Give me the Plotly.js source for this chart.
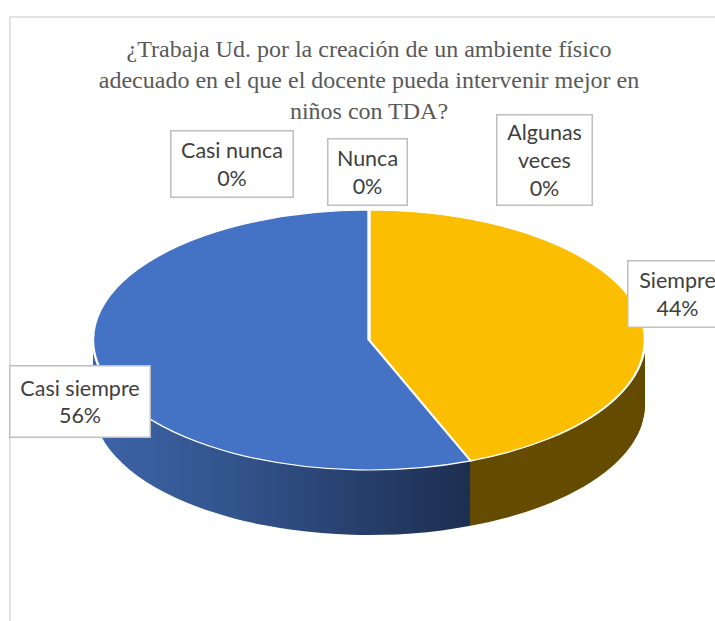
<!DOCTYPE html>
<html>
<head>
<meta charset="utf-8">
<script src="https://cdn.plot.ly/plotly-3.0.1.min.js"></script>
<style>
  html, body { margin: 0; padding: 0; background: #ffffff; }
  #wrap { position: relative; width: 715px; height: 621px; overflow: hidden; background: #ffffff; }
  #pie { position: absolute; left: 93px; top: 210px; width: 552px; height: 690px;
         transform: scaleY(0.471); transform-origin: 0 0; }
  #over { position: absolute; left: 0; top: 0; width: 715px; height: 621px; pointer-events: none; }
</style>
</head>
<body>
<div id="wrap">
  <div id="pie"></div>
  <div id="over"></div>
</div>
<script>
// ---- data ----
const categories = ['Siempre', 'Casi siempre', 'Casi nunca', 'Nunca', 'Algunas veces'];
const labelText  = ['Siempre', 'Casi siempre', 'Casi nunca', 'Nunca', 'Algunas<br>veces'];
const values     = [44, 56, 0, 0, 0];
const topColors  = ['#FBBE00', '#4472C4', '#A5A5A5', '#ED7D31', '#5B9BD5'];
const sideColors = ['#654C00', '#2E4C82', '#5A5A5A', '#8A4A1C', '#35597C'];

const total = values.reduce((a, b) => a + b, 0);
const pctText = values.map(v => Math.round(v / total * 100) + '%');

// ---- 3D-looking pie: stacked darker layers under the top face ----
const W = 552, H = 690, depth = 138;
const traces = [];
for (let o = depth; o > 0; o -= 3) {
  traces.push({
    type: 'pie', labels: categories, values: values, sort: false,
    direction: 'clockwise', rotation: 0, textinfo: 'none', hoverinfo: 'skip',
    marker: { colors: sideColors, line: { width: 0 } },
    domain: { x: [0, 1], y: [(depth - o) / H, (H - o) / H] }
  });
}
traces.push({
  type: 'pie', labels: categories, values: values, sort: false,
  direction: 'clockwise', rotation: 0, textinfo: 'none', hoverinfo: 'skip',
  marker: { colors: topColors, line: { color: '#ffffff', width: 2.5 } },
  domain: { x: [0, 1], y: [depth / H, 1] }
});
Plotly.newPlot('pie', traces, {
  width: W, height: H, margin: { l: 0, r: 0, t: 0, b: 0 },
  showlegend: false, paper_bgcolor: 'rgba(0,0,0,0)', plot_bgcolor: 'rgba(0,0,0,0)'
}, { staticPlot: true, displayModeBar: false }).then(gd => {
  // horizontal shading on the blue side wall
  const svg = gd.querySelector('svg.main-svg');
  const ns = 'http://www.w3.org/2000/svg';
  let defs = svg.querySelector('defs');
  if (!defs) { defs = document.createElementNS(ns, 'defs'); svg.insertBefore(defs, svg.firstChild); }
  const lg = document.createElementNS(ns, 'linearGradient');
  lg.setAttribute('id', 'blueSide');
  lg.setAttribute('x1', '0'); lg.setAttribute('y1', '0');
  lg.setAttribute('x2', '1'); lg.setAttribute('y2', '0');
  [['0', '#3D64A8'], ['0.35', '#33558E'], ['1', '#1D2E50']].forEach(([off, col]) => {
    const s = document.createElementNS(ns, 'stop');
    s.setAttribute('offset', off); s.setAttribute('stop-color', col);
    lg.appendChild(s);
  });
  defs.appendChild(lg);
  gd.querySelectorAll('path.surface').forEach(p => {
    if (p.style.fill === 'rgb(46, 76, 130)') p.style.fill = 'url(#blueSide)';
  });
});

// ---- overlay: title, label boxes, chart border ----
const OW = 715, OH = 621;
const boxPos = [ [677, 294, 98], [80, 401, 139], [232, 164, 121], [367, 172, 78], [544, 160, 94] ];
const boxH   = [65, 70, 65, 65, 89];
const annotations = categories.map((c, i) => ({
  xref: 'paper', yref: 'paper',
  x: boxPos[i][0] / OW, y: 1 - boxPos[i][1] / OH,
  xanchor: 'center', yanchor: 'middle',
  text: labelText[i] + '<br>' + pctText[i],
  showarrow: false, align: 'center', valign: 'middle',
  width: boxPos[i][2], height: boxH[i],
  bgcolor: '#ffffff', bordercolor: '#BFBFBF', borderwidth: 1.5, borderpad: 0,
  font: { family: 'Lato, "Open Sans", sans-serif', size: 21.5, color: '#404040' }
}));

Plotly.newPlot('over', [], {
  width: OW, height: OH, margin: { l: 0, r: 0, t: 0, b: 0 },
  paper_bgcolor: 'rgba(0,0,0,0)', plot_bgcolor: 'rgba(0,0,0,0)',
  xaxis: { visible: false, range: [0, 1] }, yaxis: { visible: false, range: [0, 1] },
  showlegend: false,
  title: {
    text: '¿Trabaja Ud. por la creación de un ambiente físico<br>adecuado en el que el docente pueda intervenir mejor en<br>niños con TDA?',
    x: 369 / OW, xanchor: 'center', y: 1 - 57 / OH, yanchor: 'top',
    font: { family: '"Liberation Serif", "Times New Roman", serif', size: 24, color: '#595959' }
  },
  annotations: annotations,
  shapes: [{
    type: 'rect', xref: 'paper', yref: 'paper',
    x0: 10 / OW, x1: 1.2, y0: -0.2, y1: 1 - 17 / OH,
    line: { color: '#D9D9D9', width: 1.5 }, fillcolor: 'rgba(0,0,0,0)'
  }]
}, { staticPlot: true, displayModeBar: false });
</script>
</body>
</html>
